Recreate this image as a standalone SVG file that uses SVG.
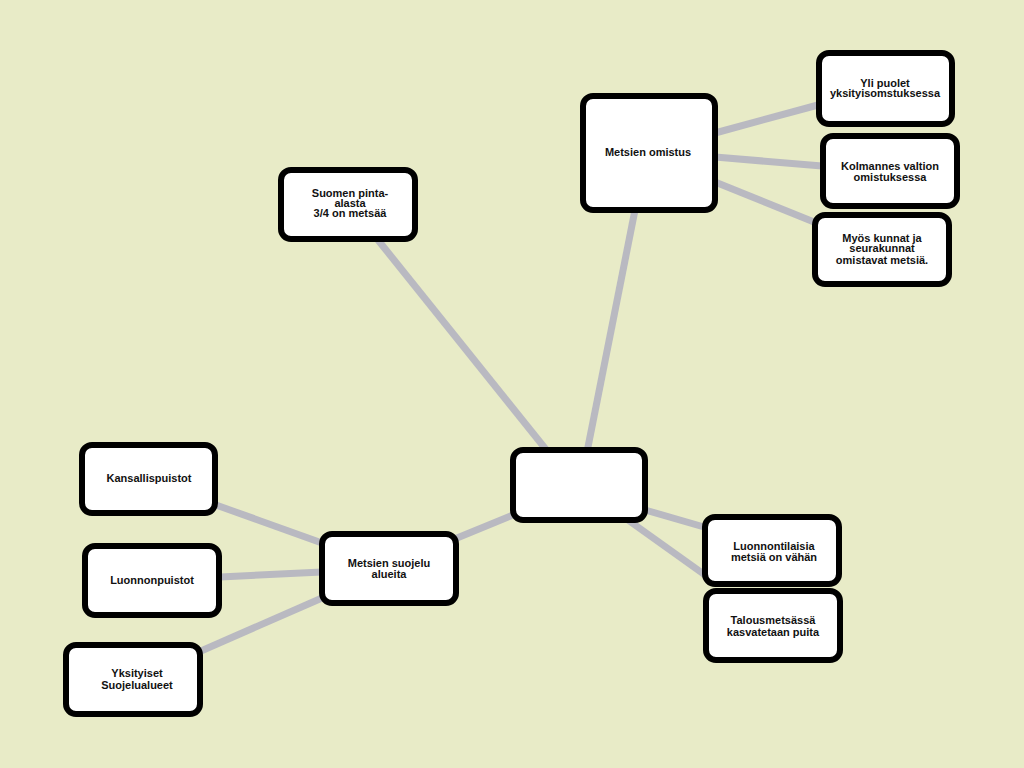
<svg xmlns="http://www.w3.org/2000/svg" width="1024" height="768" viewBox="0 0 1024 768">
<style>
.node rect{fill:#ffffff;stroke:#000000;stroke-width:6;}
.node text{font-family:"Liberation Sans",Arial,sans-serif;font-weight:bold;font-size:11px;fill:#111111;text-anchor:middle;}
#connectors line{stroke:#B9B9C1;stroke-width:7;stroke-linecap:butt;}
</style>
<rect x="0" y="0" width="1024" height="768" fill="#E8EBC7"/>
<g id="connectors">
<line x1="587" y1="452" x2="635" y2="210"/>
<line x1="548" y1="452" x2="378" y2="240"/>
<line x1="715" y1="133" x2="818" y2="105"/>
<line x1="715" y1="157" x2="822" y2="166"/>
<line x1="715" y1="182" x2="814" y2="222"/>
<line x1="645" y1="510" x2="704" y2="527"/>
<line x1="628" y1="520" x2="705" y2="575"/>
<line x1="513" y1="515" x2="457" y2="538"/>
<line x1="322" y1="543" x2="216" y2="505"/>
<line x1="322" y1="572" x2="220" y2="577"/>
<line x1="322" y1="598" x2="201" y2="651"/>
</g>
<g id="node-center" class="node"><rect x="513" y="450" width="132" height="70" rx="10"/></g>
<g id="node-omistus" class="node"><rect x="583" y="96" width="132" height="114" rx="10"/><text x="648" y="156">Metsien omistus</text></g>
<g id="node-yli" class="node"><rect x="819" y="53" width="133" height="71" rx="10"/><text x="885" y="87">Yli puolet</text><text x="885" y="97">yksityisomstuksessa</text></g>
<g id="node-kolmannes" class="node"><rect x="823" y="136" width="134" height="70" rx="10"/><text x="890" y="170">Kolmannes valtion</text><text x="890" y="181">omistuksessa</text></g>
<g id="node-myos" class="node"><rect x="815" y="215" width="134" height="69" rx="10"/><text x="882" y="242">Myös kunnat ja</text><text x="882" y="252">seurakunnat</text><text x="882" y="264">omistavat metsiä.</text></g>
<g id="node-suomen" class="node"><rect x="281" y="170" width="134" height="69" rx="10"/><text x="350" y="197">Suomen pinta-</text><text x="350" y="207">alasta</text><text x="350" y="217">3/4 on metsää</text></g>
<g id="node-luonnontilaisia" class="node"><rect x="705" y="517" width="134" height="67" rx="10"/><text x="774" y="550">Luonnontilaisia</text><text x="774" y="561">metsiä on vähän</text></g>
<g id="node-talous" class="node"><rect x="706" y="591" width="134" height="69" rx="10"/><text x="773" y="624">Talousmetsässä</text><text x="773" y="636">kasvatetaan puita</text></g>
<g id="node-suojelu" class="node"><rect x="322" y="534" width="134" height="69" rx="10"/><text x="389" y="567">Metsien suojelu</text><text x="389" y="578">alueita</text></g>
<g id="node-kansallis" class="node"><rect x="82" y="445" width="133" height="68" rx="10"/><text x="149" y="482">Kansallispuistot</text></g>
<g id="node-luonnonpuistot" class="node"><rect x="85" y="546" width="134" height="69" rx="10"/><text x="152" y="584">Luonnonpuistot</text></g>
<g id="node-yksityiset" class="node"><rect x="66" y="645" width="134" height="69" rx="10"/><text x="137" y="677">Yksityiset</text><text x="137" y="689">Suojelualueet</text></g>
</svg>
